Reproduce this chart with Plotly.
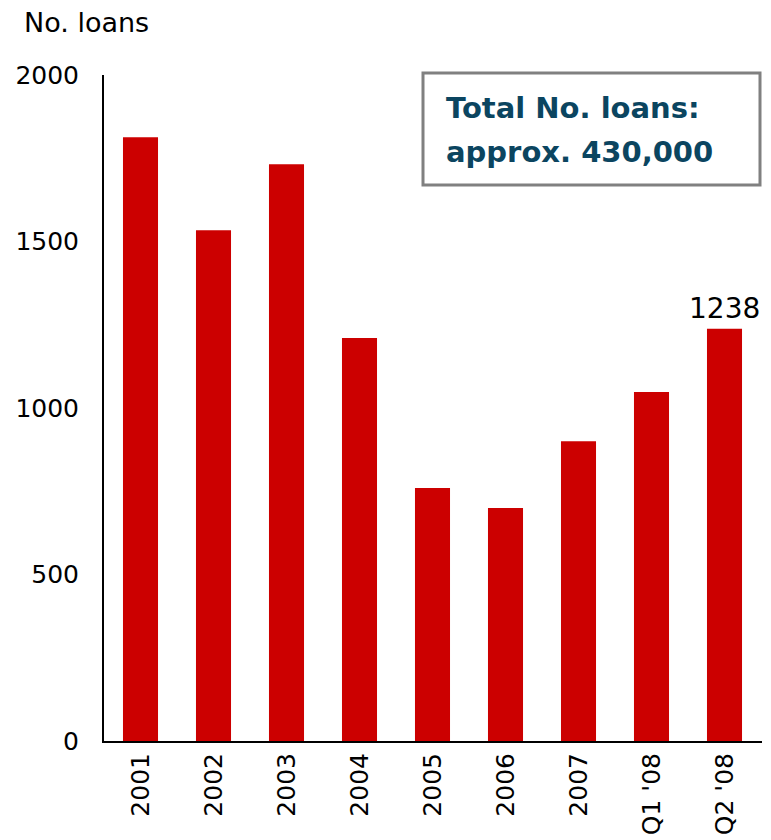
import plotly.graph_objects as go

categories = ["2001", "2002", "2003", "2004", "2005", "2006", "2007", "Q1 '08", "Q2 '08"]
loans = [1813, 1534, 1732, 1210, 760, 700, 900, 1048, 1238]
y_ticks = [0, 500, 1000, 1500, 2000]

FONT = "DejaVu Sans"
PW = 658.0  # plot width in px

fig = go.Figure()
fig.add_trace(go.Bar(
    x=categories, y=loans,
    marker=dict(color="#CC0000", line=dict(width=0)),
))

fig.add_shape(type="rect", xref="paper", yref="paper",
              x0=(423 - 104) / PW, x1=(760 - 104) / PW, y0=0.8348, y1=1.003,
              line=dict(color="#808080", width=3), fillcolor="white", layer="above")

fig.update_layout(
    width=755, height=832,
    margin=dict(l=96, r=1, t=67, b=99),
    plot_bgcolor="white", paper_bgcolor="white",
    bargap=0.52,
    showlegend=False,
    font=dict(family=FONT, size=25, color="black"),
    xaxis=dict(
        showline=True, linecolor="black", linewidth=2,
        ticks="", tickangle=-90, tickfont=dict(size=25),
        showgrid=False, automargin=False,
    ),
    yaxis=dict(
        range=[0, 2000], tickvals=y_ticks,
        showline=True, linecolor="black", linewidth=2,
        ticks="", showgrid=False, zeroline=False,
        tickfont=dict(size=25), ticklabelstandoff=18, automargin=False,
    ),
    annotations=[
        dict(text="No. loans", xref="paper", yref="paper", x=(22 - 104) / PW, y=(741 - 22) / 666,
             xanchor="left", yanchor="middle", showarrow=False,
             font=dict(family=FONT, size=27, color="black")),
        dict(text="<b>Total No. loans:</b>", xref="paper", yref="paper",
             x=(444 - 104) / PW, y=0.9505, xanchor="left", yanchor="middle", showarrow=False,
             font=dict(family=FONT, size=29, color="#0B4560")),
        dict(text="<b>approx. 430,000</b>", xref="paper", yref="paper",
             x=(444 - 104) / PW, y=0.8844, xanchor="left", yanchor="middle", showarrow=False,
             font=dict(family=FONT, size=29, color="#0B4560")),
        dict(text=str(loans[-1]), x=categories[-1], y=loans[-1], xref="x", yref="y",
             xanchor="center", yanchor="bottom", showarrow=False, yshift=2,
             font=dict(family=FONT, size=28, color="black")),
    ],
)

fig.write_html("out.html")
